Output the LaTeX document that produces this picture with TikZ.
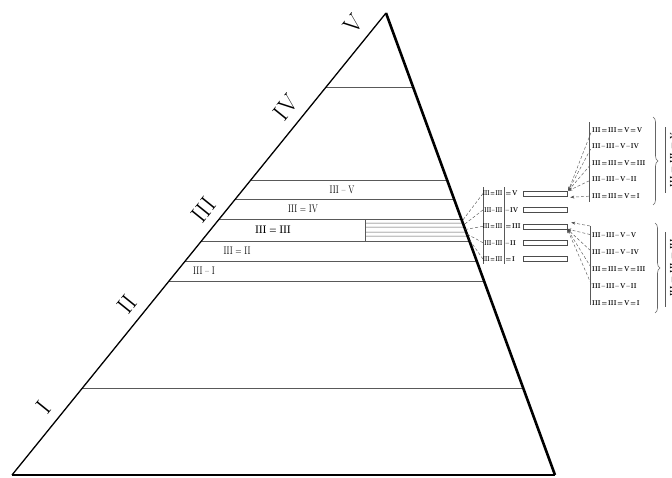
\documentclass[tikz,border=0pt]{standalone}
\usepackage{tikz}
\usetikzlibrary{calc}
\usetikzlibrary{arrows.meta}
\usetikzlibrary{decorations.pathreplacing}

\tikzset{
  band/.style={draw=black!65, line width=0.7pt},
  levlab/.style={inner sep=0pt, font=\fontsize{11}{11}\selectfont, xscale=0.75},
  sidelab/.style={inner sep=0pt, font=\fontsize{24}{24}\selectfont},
  cutlab/.style={inner sep=0pt, font=\bfseries\fontsize{7}{7}\selectfont},
  sublab/.style={cutlab, xscale=0.8},
  midlab/.style={cutlab, xscale=0.64},
  cellbox/.style={draw=black!70, line width=0.6pt, minimum width=44pt, minimum height=5pt, inner sep=0pt},
  link/.style={densely dashed, black!65, line width=0.45pt},
  linkarrow/.style={link, -{Stealth[length=4pt,width=3pt,fill=black]}},
  curly/.style={decorate, decoration={brace, amplitude=5pt}, black!60, line width=0.6pt},
}

\begin{document}
\begin{tikzpicture}[x={(1pt,0)},y={(0,-1pt)}]
  \useasboundingbox (0,0) rectangle (672,477);
  \coordinate (apex) at (386,13);
  \coordinate (bl) at (12,475);
  \coordinate (br) at (555,475);

  \foreach \y in {87,180,199,219,241,261,281,388}{
    \pgfmathsetmacro\lev{(475-\y)/462}
    \draw[band] ($(bl)!\lev!(apex)$) -- ($(br)!\lev!(apex)$);
  }
  \foreach \y in {223,227,232,236}{
    \pgfmathsetmacro\lev{(475-\y)/462}
    \draw[band, line width=0.5pt] (365,\y) -- ($(br)!\lev!(apex)$);
  }
  \draw[band, line width=0.5pt] (365,219) -- (365,241);
  \foreach \i/\y in {1/221,2/225,3/229.5,4/234,5/238.5}{
    \pgfmathsetmacro\lev{(475-\y)/462}
    \coordinate (r\i) at ($(br)!\lev!(apex)$);
  }

  \draw[line width=2pt] (bl) -- (br);
  \draw[line width=2.6pt] (apex) -- (br);
  \draw[line width=1.3pt] (bl) -- (apex)
    node[sidelab, pos=0.122, sloped, above=9pt] (sI) {I}
    node[sidelab, pos=0.345, sloped, above=9pt] (sII) {II}
    node[sidelab, pos=0.549, sloped, above=9pt] (sIII) {III}
    node[sidelab, pos=0.771, sloped, above=9pt] (sIV) {IV}
    node[sidelab, pos=0.951, sloped, above=9pt] (sV) {V};

  \node[levlab] (lv5) at (342,189.5) {III -- V};
  \node[levlab] (lv4) at (303,209) {III = IV};
  \node[levlab] (lv3) at (273,230) {\bfseries III = III};
  \node[levlab] (lv2) at (237,251) {III = II};
  \node[levlab] (lv1) at (204,271) {III -- I};

  \draw[band, line width=0.5pt] (483,187) -- (483,264);
  \draw[band, line width=0.5pt] (504,187) -- (504,264);
  \foreach \i/\y/\s/\r in {1/193.5/=/V,2/209.9/--/IV,3/226.3/=/III,4/242.7/--/II,5/259.1/=/I}{
    \node[midlab, anchor=east] (ma\i) at (502.5,\y) {III\,\s\,III};
    \node[sublab, anchor=west] (mb\i) at (505.5,\y) {\s\,\r};
    \node[cellbox] (cb\i) at (545,\y) {};
    \draw[link] (483,\y) -- (r\i);
  }

  \draw[band, line width=0.5pt] (589,122) -- (589,202);
  \draw[band, line width=0.5pt] (590,226) -- (590,305);
  \foreach \i/\y/\s/\r in {1/130/=/V,2/146.5/--/IV,3/163/=/III,4/179.5/--/II,5/196/=/I}{
    \node[sublab, anchor=west] (ua\i) at (592,\y) {III\,\s\,III\,\s\,V\,\s\,\r};
  }
  \foreach \i/\y/\s/\r in {1/235/--/V,2/252/--/IV,3/269/=/III,4/286/--/II,5/303/=/I}{
    \node[sublab, anchor=west] (la\i) at (592,\y) {III\,\s\,III\,\s\,V\,\s\,\r};
  }
  \foreach \i in {1,2,3,4}{
    \draw[linkarrow, shorten <=3pt] (ua\i.west) -- ($(cb1.north east)+(1,0)$);
    \draw[linkarrow, shorten <=2pt] (la\i.west) -- (cb3.south east);
  }
  \draw[linkarrow, shorten <=3pt] (ua5.west) -- ($(cb1.south east)+(3,1)$);
  \coordinate (ltop) at (590,226);
  \draw[linkarrow] (ltop) -- ($(cb3.north east)+(4,-1)$);

  \draw[curly] (653,117) -- (653,205);
  \draw[curly] (655,223) -- (655,313);
  \draw[band, line width=0.5pt] (665,127) -- (665,193);
  \draw[band, line width=0.5pt] (665,232) -- (665,307);
  \node[cutlab, rotate=90] (cu) at (672.5,160) {III = III = V};
  \node[cutlab, rotate=90] (cl) at (672.5,268) {III = III = III};
\end{tikzpicture}
\end{document}
